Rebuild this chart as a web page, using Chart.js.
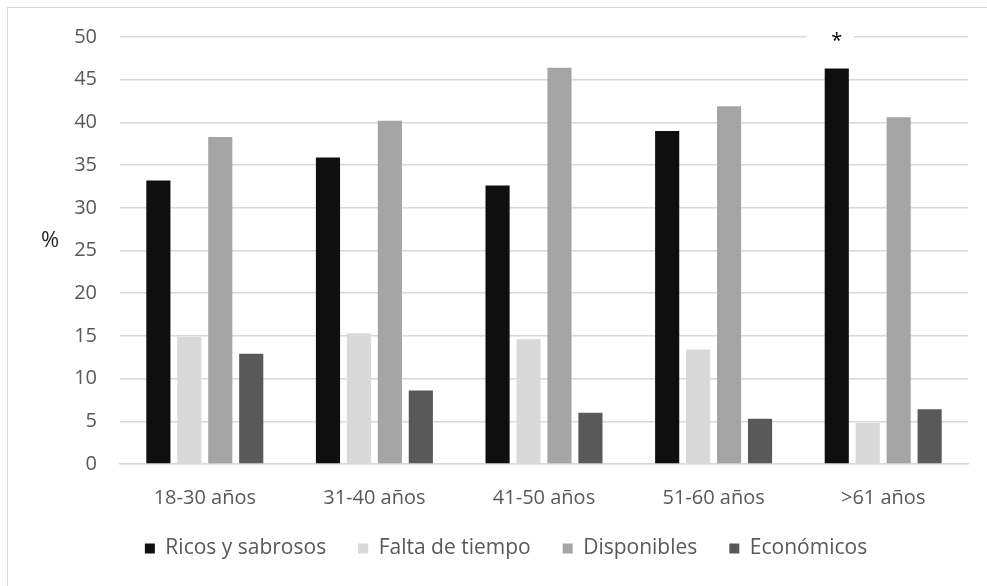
<!DOCTYPE html>
<html>
<head>
<meta charset="utf-8">
<script src="https://cdn.jsdelivr.net/npm/chart.js@4.4.0/dist/chart.umd.min.js"></script>
<style>
  html, body { margin: 0; padding: 0; background: #fff; overflow: hidden; }
  #frame { position: absolute; left: 7px; top: 7px; width: 1100px; height: 700px; border: 1px solid #d9d9d9; }
  #wrap { position: absolute; left: 0; top: 0; width: 1012px; height: 586px; }
</style>
</head>
<body>
<div id="frame"></div>
<div id="wrap"><canvas id="chart"></canvas></div>
<script>
"use strict";

const grupos = ["18-30 años", "31-40 años", "41-50 años", "51-60 años", ">61 años"];
const ricos = [33.2, 35.9, 32.6, 39.0, 46.3];
const faltaTiempo = [14.9, 15.3, 14.6, 13.4, 4.8];
const disponibles = [38.3, 40.2, 46.4, 41.9, 40.6];
const economicos = [12.9, 8.6, 6.0, 5.3, 6.4];
const yTicks = [0, 5, 10, 15, 20, 25, 30, 35, 40, 45, 50];

const gris = "#595959";
const fuente = "'Open Sans', sans-serif";
const recorteLeyenda = 26;

// the legend keeps its wide item spacing but gives back some height to the plot
const leyendaBaja = {
    id: "leyendaBaja",
    beforeLayout(chart) {
        const lg = chart.legend;
        if (!lg || lg._recortada) return;
        const fit = lg.fit.bind(lg);
        const draw = lg.draw.bind(lg);
        lg.fit = function() { fit(); this.height -= recorteLeyenda; };
        lg.draw = function() {
            const top = this.top;
            this.top = top - recorteLeyenda;
            draw();
            this.top = top;
        };
        lg._recortada = true;
    }
};

// "%" beside the y axis and the "*" over the last black bar
const marcas = {
    id: "marcas",
    afterDraw(chart) {
        const ctx = chart.ctx;
        ctx.save();
        ctx.font = "22px " + fuente;
        ctx.fillStyle = "#262626";
        ctx.textAlign = "center";
        ctx.textBaseline = "middle";
        ctx.fillText("%", 50, 241);

        const bar = chart.getDatasetMeta(0).data[4];
        const y = chart.scales.y.getPixelForValue(50);
        ctx.fillStyle = "#fff";
        ctx.fillRect(bar.x - 30, y - 4, 47, 8);
        ctx.fillStyle = "#000";
        ctx.font = "20px " + fuente;
        ctx.fillText("*", bar.x, y + 4);
        ctx.restore();
    }
};

function serie(label, data, color) {
    return {
        label: label,
        data: data,
        backgroundColor: color,
        borderWidth: 0,
        barPercentage: 0.78,
        categoryPercentage: 0.73
    };
}

new Chart(document.getElementById("chart"), {
    type: "bar",
    data: {
        labels: grupos,
        datasets: [
            serie("Ricos y sabrosos", ricos, "#0f0f0f"),
            serie("Falta de tiempo", faltaTiempo, "#d9d9d9"),
            serie("Disponibles", disponibles, "#a5a5a5"),
            serie("Económicos", economicos, "#595959")
        ]
    },
    options: {
        responsive: true,
        maintainAspectRatio: false,
        animation: false,
        layout: { padding: { left: 0, right: 0, top: 37, bottom: 17 } },
        plugins: {
            tooltip: { enabled: false },
            legend: {
                position: "bottom",
                labels: {
                    color: gris,
                    font: { family: fuente, size: 21 },
                    boxWidth: 10,
                    boxHeight: 10,
                    padding: 32
                }
            }
        },
        scales: {
            x: {
                grid: { display: false, drawTicks: false },
                border: { color: "#d9d9d9", width: 1.5 },
                ticks: { color: gris, font: { family: fuente, size: 20 }, padding: 22 }
            },
            y: {
                min: 0,
                max: 50,
                afterBuildTicks(scale) { scale.ticks = yTicks.map(v => ({ value: v })); },
                afterFit(scale) { scale.width = 120; },
                grid: { color: "#d9d9d9", lineWidth: 1.5, drawTicks: false },
                border: { display: false },
                ticks: { color: gris, font: { family: fuente, size: 20 }, padding: 23 }
            },
            // empty strip on the right so the plot stops short of the legend's width
            margen: {
                position: "right",
                afterFit(scale) { scale.width = 44; },
                grid: { display: false },
                border: { display: false },
                ticks: { display: false }
            }
        }
    },
    plugins: [leyendaBaja, marcas]
});
</script>
</body>
</html>
